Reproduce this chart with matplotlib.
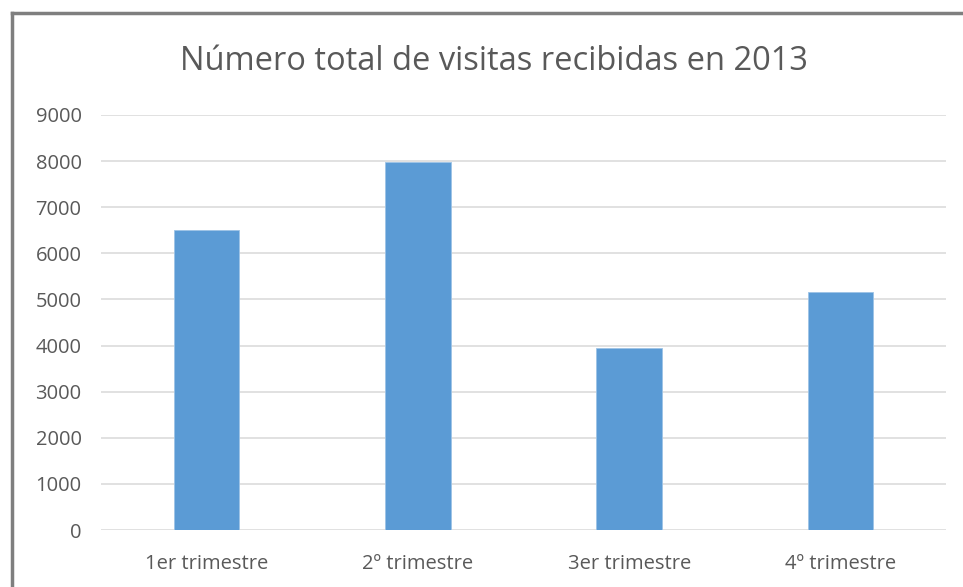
import matplotlib
matplotlib.use('Agg')
import matplotlib.pyplot as plt
from matplotlib.lines import Line2D

categories = ['1er trimestre', '2º trimestre', '3er trimestre', '4º trimestre']
visitas = [6500, 7970, 3950, 5160]
y_ticks = [0, 1000, 2000, 3000, 4000, 5000, 6000, 7000, 8000, 9000]

text_color = '#595959'
bar_color = '#5B9BD5'
grid_color = '#D9D9D9'

W, H = 963, 587
fig = plt.figure(figsize=(W / 100, H / 100), dpi=100)
plt.rcParams['font.family'] = ['Open Sans', 'DejaVu Sans']

# plot area in pixels: left 101, right 946, top 115 (9000), bottom 530 (0)
ax = fig.add_axes([101 / W, 1 - 530 / H, (946 - 101) / W, (530 - 115) / H])
ax.bar(range(len(categories)), visitas, width=0.31, color=bar_color,
       edgecolor='#9DC3E6', linewidth=0.6, zorder=3)
ax.set_xlim(-0.5, len(categories) - 0.5)
ax.set_ylim(0, 9000)
ax.set_yticks(y_ticks)
ax.set_yticklabels([str(t) for t in y_ticks])
ax.set_xticks(range(len(categories)))
ax.set_xticklabels(categories)
ax.tick_params(axis='both', length=0, labelsize=14.5, colors=text_color)
ax.tick_params(axis='y', pad=14)
ax.tick_params(axis='x', pad=17)
ax.grid(axis='y', color=grid_color, linewidth=1.1, zorder=0)
for s in ax.spines.values():
    s.set_visible(False)

fig.text(0.5 * (181 + 806) / W, 1 - 62 / H, 'Número total de visitas recibidas en 2013',
         ha='center', va='center', fontsize=23.5, color=text_color)

# outer frame (left and top edges visible)
fig.add_artist(Line2D([12 / W, 12 / W], [0, 1 - 13 / H], transform=fig.transFigure,
                      color='#7F7F7F', linewidth=2.5))
fig.add_artist(Line2D([12 / W, 1], [1 - 13 / H, 1 - 13 / H], transform=fig.transFigure,
                      color='#7F7F7F', linewidth=2.5))

fig.savefig('out.png', dpi=100, facecolor='white')
